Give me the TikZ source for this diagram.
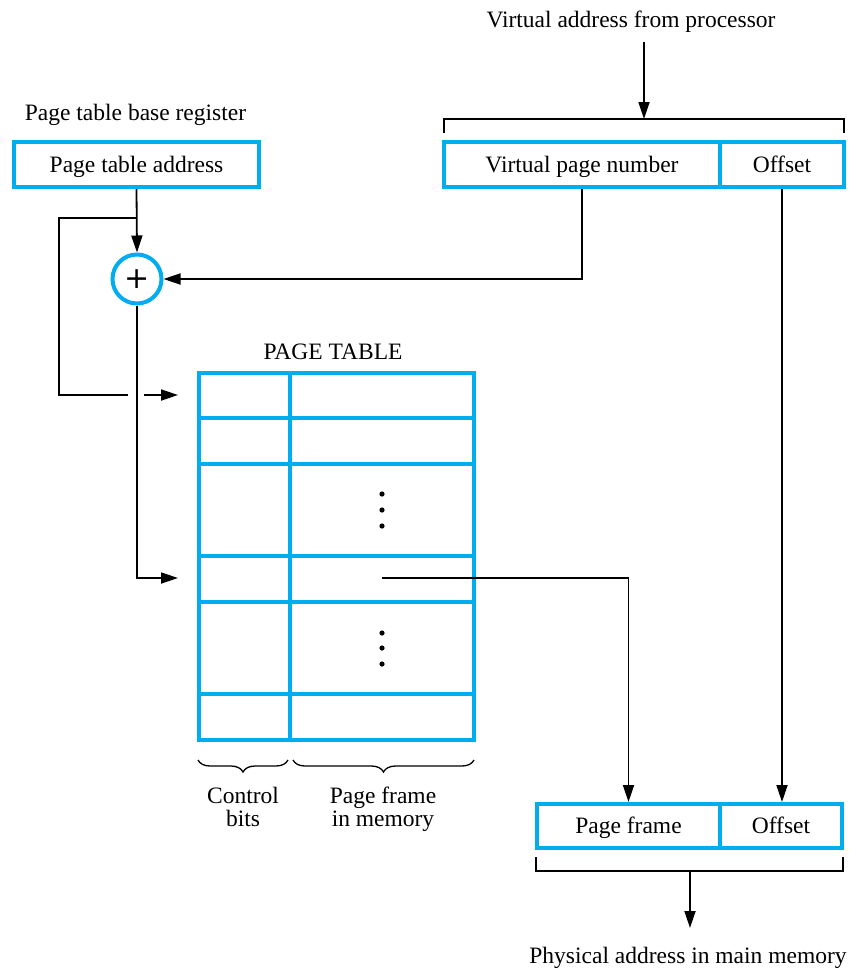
\documentclass[tikz,border=0pt]{standalone}
\usepackage{fontspec}
\setmainfont{Liberation Serif}
\newfontfamily\plusfont{DejaVu Sans}
\usetikzlibrary{arrows.meta,decorations.pathreplacing}
\definecolor{cy}{RGB}{0,174,239}
\begin{document}
\begin{tikzpicture}[x=1pt,y=-1pt,
  txt/.style={inner sep=0pt,font=\fontsize{23.5}{23}\selectfont},
  cbox/.style={txt,draw=cy,line width=4pt,minimum height=45pt,text height=18pt,text depth=3pt},
  ln/.style={line width=1.8pt},
  arr/.style={ln,-{Triangle[length=17pt,width=11pt]}},
  gridln/.style={draw=cy,line width=4pt},
  brc/.style={decorate,decoration={brace,mirror,amplitude=12pt},line width=1.3pt}
]
\useasboundingbox (0,0) rectangle (851,970);

% texts
\node[txt,anchor=base] (ptbr) at (135.5,120) {Page table base register};
\node[txt,anchor=base] (vap) at (631,27) {Virtual address from processor};
\node[txt,anchor=base] (ptt) at (333,359) {PAGE TABLE};
\node[txt,anchor=base] (pam) at (688,963) {Physical address in main memory};
\node[txt,anchor=north,align=center] (cb) at (243,787) {Control\\bits};
\node[txt,anchor=north,align=center] (pfm) at (383,787) {Page frame\\in memory};

% boxes
\node[cbox,minimum width=245pt] (pta) at (136.5,164.5) {Page table address};
\node[cbox,minimum width=276pt] (vpn) at (582,164.5) {Virtual page number};
\node[cbox,minimum width=124pt] (off) at (782,164.5) {Offset};
\node[cbox,minimum width=183pt,minimum height=44pt] (pf) at (628.5,826) {Page frame};
\node[cbox,minimum width=122pt,minimum height=44pt] (off2) at (781,826) {Offset};

% adder
\node[draw=cy,line width=4pt,circle,minimum size=49pt,inner sep=0pt] (plus) at (137,279) {\plusfont\fontsize{30}{30}\selectfont +};

% page table
\node[gridln,minimum width=275pt,minimum height=367pt,inner sep=0pt] (pt) at (336.5,556.5) {};
\foreach \y in {418,464,556,602,694} \draw[gridln] (199,\y) -- (474,\y);
\draw[gridln] (290,373) -- (290,740);
\foreach \y in {494,510,526,633,648,664} \fill (382,\y) circle (2.6pt);

% braces
\draw[brc] (198,760) -- (288,760);
\draw[brc] (293,760) -- (474,760);

% brackets
\draw[ln] (444,133) -- (444,119) -- (844,119) -- (844,133);
\draw[ln] (536,857) -- (536,871) -- (843,871) -- (843,857);

% coordinates
\coordinate (j1) at (137,218);
\coordinate (vb) at (644,119);
\coordinate (vt) at (644,42);
\coordinate (pb) at (690,871);
\coordinate (pe) at (690,928);
\coordinate (a1s) at (144,395);
\coordinate (a1) at (178,395);
\coordinate (a2) at (178,578);
\coordinate (pfs) at (382,578);

% connectors
\draw[arr] (vt) -- (vb);
\draw[arr] (pta.south) -- (plus.north);
\draw[ln] (j1) -- (59,218) -- (59,395) -- (128,395);
\draw[arr] (a1s) -- (a1);
\draw[arr] (plus.south) |- (a2);
\draw[arr] (vpn.south) |- (plus.east);
\draw[arr] (pfs) -| (pf.north);
\draw[arr] (off.south) -- (off.south |- off2.north);
\draw[arr] (pb) -- (pe);
\end{tikzpicture}
\end{document}
